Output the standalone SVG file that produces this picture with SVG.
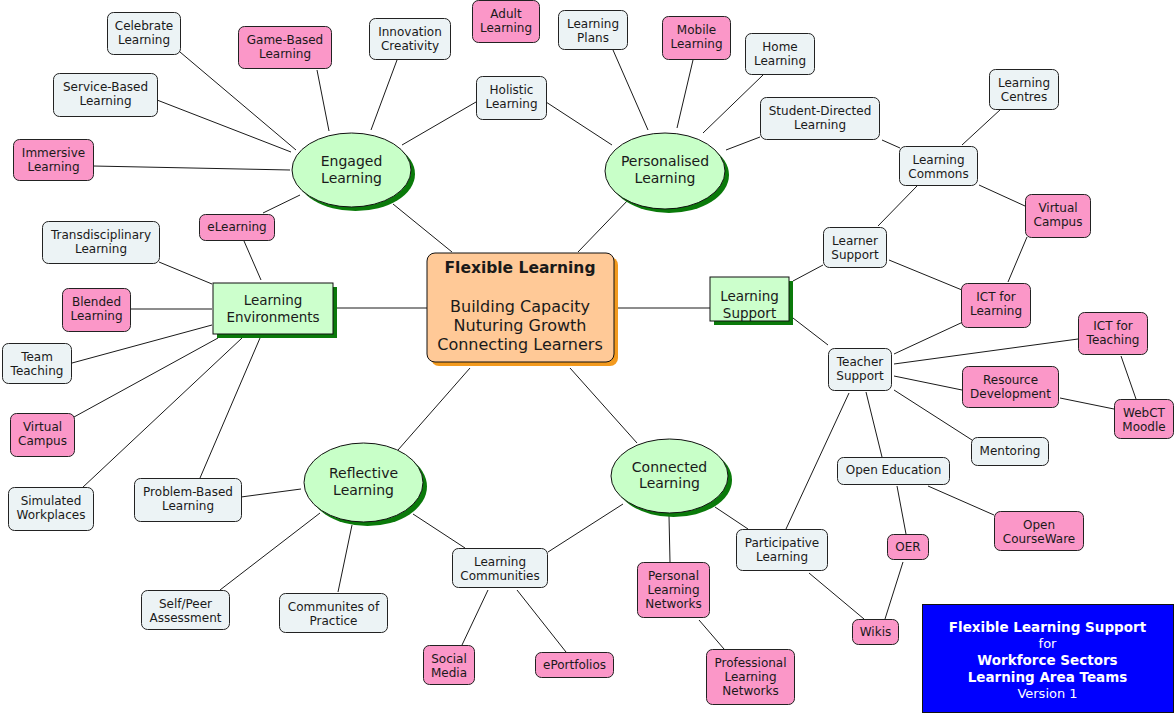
<svg xmlns="http://www.w3.org/2000/svg" width="1175" height="714" viewBox="0 0 1175 714">
<style>
text{font-family:"DejaVu Sans",Verdana,sans-serif;fill:#1a1a1a;text-anchor:middle}
.s{font-size:12px}
.m{font-size:14px}
.lt{fill:#ecf3f5;stroke:#222;stroke-width:1}
.pk{fill:#fb97c8;stroke:#222;stroke-width:1}
.gr{fill:#c8ffc8;stroke:#111;stroke-width:1}
.gs{fill:#0a7a0a}
#edges line{stroke:#1a1a1a;stroke-width:1}
.w{fill:#fff}
</style>
<rect width="1175" height="714" fill="#fff"/>
<g id="edges">
<line x1="180" y1="52" x2="296" y2="150"/>
<line x1="157" y1="100" x2="291" y2="152"/>
<line x1="93" y1="166" x2="290" y2="170"/>
<line x1="317" y1="70" x2="329" y2="131"/>
<line x1="397" y1="60" x2="371" y2="130"/>
<line x1="476" y1="102" x2="402" y2="145"/>
<line x1="263" y1="213" x2="300" y2="195"/>
<line x1="452" y1="252" x2="393" y2="204"/>
<line x1="546" y1="102" x2="612" y2="145"/>
<line x1="613" y1="50" x2="648" y2="130"/>
<line x1="693" y1="60" x2="677" y2="128"/>
<line x1="763" y1="75" x2="703" y2="133"/>
<line x1="760" y1="137" x2="726" y2="150"/>
<line x1="578" y1="252" x2="630" y2="198"/>
<line x1="882" y1="140" x2="900" y2="148"/>
<line x1="1001" y1="109" x2="962" y2="145"/>
<line x1="979" y1="185" x2="1025" y2="206"/>
<line x1="917" y1="186" x2="878" y2="226"/>
<line x1="1027" y1="237" x2="1008" y2="282"/>
<line x1="823" y1="265" x2="793" y2="281"/>
<line x1="889" y1="260" x2="962" y2="290"/>
<line x1="793" y1="318" x2="828" y2="345"/>
<line x1="614" y1="308" x2="710" y2="308"/>
<line x1="894" y1="354" x2="963" y2="322"/>
<line x1="894" y1="364" x2="1078" y2="339"/>
<line x1="894" y1="376" x2="962" y2="390"/>
<line x1="1060" y1="398" x2="1114" y2="409"/>
<line x1="1121" y1="356" x2="1136" y2="399"/>
<line x1="894" y1="390" x2="972" y2="440"/>
<line x1="866" y1="392" x2="882" y2="457"/>
<line x1="849" y1="393" x2="786" y2="529"/>
<line x1="897" y1="486" x2="906" y2="534"/>
<line x1="928" y1="486" x2="994" y2="515"/>
<line x1="903" y1="562" x2="885" y2="619"/>
<line x1="809" y1="573" x2="864" y2="619"/>
<line x1="715" y1="507" x2="748" y2="529"/>
<line x1="669" y1="516" x2="670" y2="562"/>
<line x1="699" y1="620" x2="724" y2="649"/>
<line x1="623" y1="504" x2="548" y2="552"/>
<line x1="570" y1="368" x2="637" y2="443"/>
<line x1="470" y1="368" x2="398" y2="450"/>
<line x1="413" y1="514" x2="465" y2="548"/>
<line x1="241" y1="497" x2="301" y2="489"/>
<line x1="220" y1="590" x2="320" y2="513"/>
<line x1="338" y1="592" x2="352" y2="525"/>
<line x1="333" y1="308" x2="427" y2="308"/>
<line x1="261" y1="280" x2="244" y2="241"/>
<line x1="159" y1="262" x2="212" y2="284"/>
<line x1="130" y1="309" x2="212" y2="309"/>
<line x1="72" y1="363" x2="212" y2="325"/>
<line x1="74" y1="417" x2="218" y2="338"/>
<line x1="82" y1="488" x2="242" y2="338"/>
<line x1="200" y1="478" x2="260" y2="338"/>
<line x1="488" y1="590" x2="462" y2="645"/>
<line x1="517" y1="590" x2="566" y2="652"/>
</g>

<g id="center">
<rect x="431" y="257" width="187" height="109" rx="8" fill="#f39a1e"/>
<rect x="427" y="253" width="187" height="109" rx="8" fill="#ffc997" stroke="#111"/>
<text x="520" y="273" style="font-size:15.5px;font-weight:bold">Flexible Learning</text>
<text x="520" y="312" style="font-size:16px">Building Capacity</text>
<text x="520" y="331" style="font-size:16px">Nuturing Growth</text>
<text x="520" y="350" style="font-size:16px">Connecting Learners</text>
</g>

<g id="engaged">
<ellipse cx="355.5" cy="174" rx="59.5" ry="37" class="gs"/>
<ellipse cx="351.5" cy="170" rx="59.5" ry="37" class="gr"/>
<text class="m" x="351.5" y="166">Engaged</text><text class="m" x="351.5" y="183">Learning</text>
</g>
<g id="personalised">
<ellipse cx="669" cy="175" rx="60" ry="38" class="gs"/>
<ellipse cx="665" cy="171" rx="60" ry="38" class="gr"/>
<text class="m" x="665" y="166">Personalised</text><text class="m" x="665" y="183">Learning</text>
</g>
<g id="reflective">
<ellipse cx="367.5" cy="486.5" rx="59.5" ry="39.5" class="gs"/>
<ellipse cx="363.5" cy="482.5" rx="59.5" ry="39.5" class="gr"/>
<text class="m" x="363.5" y="478">Reflective</text><text class="m" x="363.5" y="495">Learning</text>
</g>
<g id="connected">
<ellipse cx="673.5" cy="480" rx="58.5" ry="37" class="gs"/>
<ellipse cx="669.5" cy="476" rx="58.5" ry="37" class="gr"/>
<text class="m" x="669.5" y="472">Connected</text><text class="m" x="669.5" y="488">Learning</text>
</g>

<g id="learning-environments">
<rect x="217" y="287" width="120" height="51" class="gs"/>
<rect x="213" y="283" width="120" height="51" fill="#ccffcc" stroke="#111"/>
<text x="273" y="305" style="font-size:13.5px">Learning</text><text x="273" y="322" style="font-size:13.5px">Environments</text>
</g>
<g id="learning-support">
<rect x="714" y="281" width="79" height="44" class="gs"/>
<rect x="710" y="277" width="79" height="44" fill="#ccffcc" stroke="#111"/>
<text x="749.5" y="301" style="font-size:13.5px">Learning</text><text x="749.5" y="318" style="font-size:13.5px">Support</text>
</g>

<g id="celebrate"><rect x="107.5" y="12.5" width="73" height="42" rx="6" class="lt"/><text class="s" x="144" y="29.5">Celebrate</text><text class="s" x="144" y="43.5">Learning</text></g>
<g id="game-based"><rect x="238.5" y="26.5" width="93" height="42" rx="6" class="pk"/><text class="s" x="285" y="43.5">Game-Based</text><text class="s" x="285" y="57.5">Learning</text></g>
<g id="innovation"><rect x="369.5" y="18.5" width="81" height="41" rx="6" class="lt"/><text class="s" x="410" y="35.5">Innovation</text><text class="s" x="410" y="49.5">Creativity</text></g>
<g id="adult"><rect x="472.5" y="0.5" width="67" height="42" rx="6" class="pk"/><text class="s" x="506" y="17.5">Adult</text><text class="s" x="506" y="31.5">Learning</text></g>
<g id="holistic"><rect x="476.5" y="76.5" width="70" height="43" rx="6" class="lt"/><text class="s" x="511.5" y="93.5">Holistic</text><text class="s" x="511.5" y="107.5">Learning</text></g>
<g id="learning-plans"><rect x="558.5" y="10.5" width="69" height="39" rx="6" class="lt"/><text class="s" x="593" y="27.5">Learning</text><text class="s" x="593" y="41.5">Plans</text></g>
<g id="mobile"><rect x="662.5" y="16.5" width="68" height="43" rx="6" class="pk"/><text class="s" x="696.5" y="33.5">Mobile</text><text class="s" x="696.5" y="47.5">Learning</text></g>
<g id="home"><rect x="745.5" y="33.5" width="69" height="41" rx="6" class="lt"/><text class="s" x="780" y="50.5">Home</text><text class="s" x="780" y="64.5">Learning</text></g>
<g id="student-directed"><rect x="760.5" y="97.5" width="119" height="42" rx="6" class="lt"/><text class="s" x="820" y="114.5">Student-Directed</text><text class="s" x="820" y="128.5">Learning</text></g>
<g id="learning-centres"><rect x="989.5" y="69.5" width="69" height="40" rx="6" class="lt"/><text class="s" x="1024" y="86.5">Learning</text><text class="s" x="1024" y="100.5">Centres</text></g>
<g id="learning-commons"><rect x="899.5" y="146.5" width="78" height="39" rx="6" class="lt"/><text class="s" x="938.5" y="163.5">Learning</text><text class="s" x="938.5" y="177.5">Commons</text></g>
<g id="virtual-campus-r"><rect x="1025.5" y="194.5" width="65" height="43" rx="6" class="pk"/><text class="s" x="1058" y="211.5">Virtual</text><text class="s" x="1058" y="225.5">Campus</text></g>
<g id="learner-support"><rect x="823.5" y="227.5" width="63" height="40" rx="6" class="lt"/><text class="s" x="855" y="244.5">Learner</text><text class="s" x="855" y="258.5">Support</text></g>
<g id="ict-learning"><rect x="961.5" y="283.5" width="69" height="44" rx="6" class="pk"/><text class="s" x="996" y="300.5">ICT for</text><text class="s" x="996" y="314.5">Learning</text></g>
<g id="teacher-support"><rect x="828.5" y="348.5" width="63" height="42" rx="6" class="lt"/><text class="s" x="860" y="365.5">Teacher</text><text class="s" x="860" y="379.5">Support</text></g>
<g id="ict-teaching"><rect x="1078.5" y="312.5" width="69" height="42" rx="6" class="pk"/><text class="s" x="1113" y="329.5">ICT for</text><text class="s" x="1113" y="343.5">Teaching</text></g>
<g id="resource-dev"><rect x="962.5" y="366.5" width="96" height="41" rx="6" class="pk"/><text class="s" x="1010.5" y="383.5">Resource</text><text class="s" x="1010.5" y="397.5">Development</text></g>
<g id="webct"><rect x="1114.5" y="399.5" width="59" height="39" rx="6" class="pk"/><text class="s" x="1144" y="416.5">WebCT</text><text class="s" x="1144" y="430.5">Moodle</text></g>
<g id="mentoring"><rect x="971.5" y="437.5" width="77" height="28" rx="6" class="lt"/><text class="s" x="1010" y="455">Mentoring</text></g>
<g id="open-education"><rect x="837.5" y="457.5" width="112" height="27" rx="6" class="lt"/><text class="s" x="893.5" y="474">Open Education</text></g>
<g id="oer"><rect x="887.5" y="534.5" width="41" height="25" rx="6" class="pk"/><text class="s" x="908" y="551">OER</text></g>
<g id="open-courseware"><rect x="994.5" y="511.5" width="89" height="39" rx="6" class="pk"/><text class="s" x="1039" y="528.5">Open</text><text class="s" x="1039" y="542.5">CourseWare</text></g>
<g id="participative"><rect x="736.5" y="529.5" width="91" height="41" rx="6" class="lt"/><text class="s" x="782" y="546.5">Participative</text><text class="s" x="782" y="560.5">Learning</text></g>
<g id="wikis"><rect x="852.5" y="619.5" width="46" height="25" rx="6" class="pk"/><text class="s" x="875.5" y="636">Wikis</text></g>

<g id="immersive"><rect x="13.5" y="139.5" width="80" height="41" rx="6" class="pk"/><text class="s" x="53.5" y="156.5">Immersive</text><text class="s" x="53.5" y="170.5">Learning</text></g>
<g id="service-based"><rect x="53.5" y="73.5" width="104" height="43" rx="6" class="lt"/><text class="s" x="105.5" y="90.5">Service-Based</text><text class="s" x="105.5" y="104.5">Learning</text></g>
<g id="transdisciplinary"><rect x="42.5" y="221.5" width="117" height="42" rx="6" class="lt"/><text class="s" x="101" y="238.5">Transdisciplinary</text><text class="s" x="101" y="252.5">Learning</text></g>
<g id="elearning"><rect x="199.5" y="214.5" width="75" height="26" rx="6" class="pk"/><text class="s" x="237" y="230.5">eLearning</text></g>
<g id="blended"><rect x="62.5" y="288.5" width="68" height="43" rx="6" class="pk"/><text class="s" x="96.5" y="305.5">Blended</text><text class="s" x="96.5" y="319.5">Learning</text></g>
<g id="team-teaching"><rect x="2.5" y="343.5" width="69" height="40" rx="6" class="lt"/><text class="s" x="37" y="360.5">Team</text><text class="s" x="37" y="374.5">Teaching</text></g>
<g id="virtual-campus-l"><rect x="10.5" y="413.5" width="64" height="43" rx="6" class="pk"/><text class="s" x="42.5" y="430.5">Virtual</text><text class="s" x="42.5" y="444.5">Campus</text></g>
<g id="simulated"><rect x="8.5" y="487.5" width="85" height="43" rx="6" class="lt"/><text class="s" x="51" y="504.5">Simulated</text><text class="s" x="51" y="518.5">Workplaces</text></g>
<g id="problem-based"><rect x="134.5" y="478.5" width="107" height="43" rx="6" class="lt"/><text class="s" x="188" y="495.5">Problem-Based</text><text class="s" x="188" y="509.5">Learning</text></g>

<g id="self-peer"><rect x="141.5" y="590.5" width="88" height="39" rx="6" class="lt"/><text class="s" x="185.5" y="607.5">Self/Peer</text><text class="s" x="185.5" y="621.5">Assessment</text></g>
<g id="communites"><rect x="279.5" y="593.5" width="108" height="39" rx="6" class="lt"/><text class="s" x="333.5" y="610.5">Communites of</text><text class="s" x="333.5" y="624.5">Practice</text></g>
<g id="learning-communities"><rect x="452.5" y="548.5" width="95" height="39" rx="6" class="lt"/><text class="s" x="500" y="565.5">Learning</text><text class="s" x="500" y="579.5">Communities</text></g>
<g id="social-media"><rect x="423.5" y="645.5" width="51" height="39" rx="6" class="pk"/><text class="s" x="449" y="662.5">Social</text><text class="s" x="449" y="676.5">Media</text></g>
<g id="eportfolios"><rect x="535.5" y="652.5" width="78" height="25" rx="6" class="pk"/><text class="s" x="574.5" y="669">ePortfolios</text></g>
<g id="personal-ln"><rect x="637.5" y="562.5" width="72" height="55" rx="6" class="pk"/><text class="s" x="673.5" y="579.5">Personal</text><text class="s" x="673.5" y="593.5">Learning</text><text class="s" x="673.5" y="607.5">Networks</text></g>
<g id="professional-ln"><rect x="706.5" y="649.5" width="88" height="55" rx="6" class="pk"/><text class="s" x="750.5" y="666.5">Professional</text><text class="s" x="750.5" y="680.5">Learning</text><text class="s" x="750.5" y="694.5">Networks</text></g>

<g id="legend">
<rect x="922.5" y="604.5" width="251" height="108" fill="#0000ff" stroke="#111"/>
<text class="w" x="1047.5" y="632" style="font-size:13.5px;font-weight:bold">Flexible Learning Support</text>
<text class="w" x="1047.5" y="648" style="font-size:13px">for</text>
<text class="w" x="1047.5" y="665" style="font-size:13.5px;font-weight:bold">Workforce Sectors</text>
<text class="w" x="1047.5" y="682" style="font-size:13.5px;font-weight:bold">Learning Area Teams</text>
<text class="w" x="1047.5" y="698" style="font-size:13px">Version 1</text>
</g>
</svg>
